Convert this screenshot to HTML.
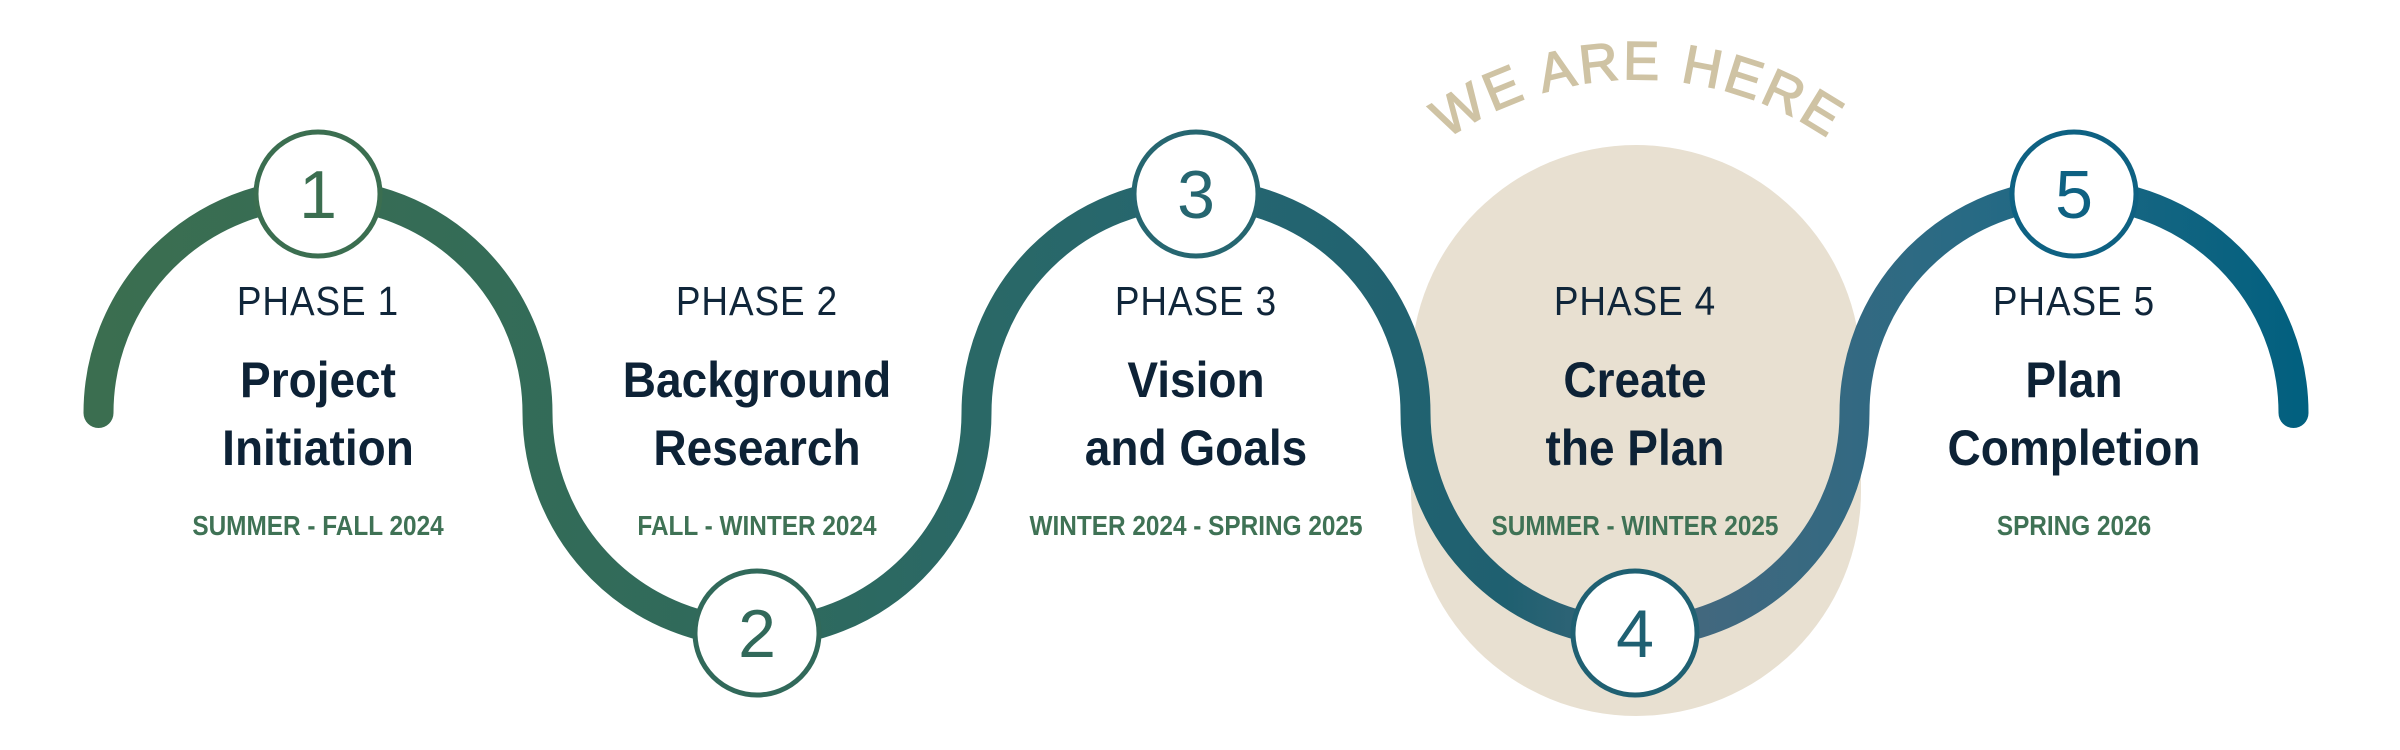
<!DOCTYPE html>
<html><head><meta charset="utf-8"><style>
html,body{margin:0;padding:0;background:#fff;}
body{width:2400px;height:750px;overflow:hidden;position:relative;font-family:"Liberation Sans",sans-serif;}
svg{position:absolute;left:0;top:0;}
.t{position:absolute;width:440px;text-align:center;}
.ph{font-size:41px;color:#10263a;letter-spacing:1px;transform:scaleX(0.9);}
.ti{font-size:50px;font-weight:bold;color:#0d2236;line-height:68px;transform:scaleX(0.92);}
.dt{font-size:28px;font-weight:bold;color:#3f7255;transform:scaleX(0.87);}
</style></head><body>
<svg width="2400" height="750" viewBox="0 0 2400 750">
<defs>
<linearGradient id="g" gradientUnits="userSpaceOnUse" x1="98" y1="0" x2="2298" y2="0">
<stop offset="0" stop-color="#3b6e50"/>
<stop offset="0.3" stop-color="#2f6a5c"/>
<stop offset="0.5" stop-color="#256670"/>
<stop offset="0.64" stop-color="#1f6070"/>
<stop offset="0.72" stop-color="#44687e"/>
<stop offset="0.85" stop-color="#286a84"/>
<stop offset="1" stop-color="#02607f"/>
</linearGradient>
<path id="arc" d="M 1420 160 A 335 335 0 0 1 1856 160"/>
</defs>
<rect x="1411" y="145" width="450" height="571" rx="225" ry="225" fill="#e8e0d1"/>
<text font-family="Liberation Sans, sans-serif" font-size="54" fill="#cfc3a4" stroke="#cfc3a4" stroke-width="1.5" letter-spacing="3"><textPath href="#arc" startOffset="50%" text-anchor="middle">WE ARE HERE</textPath></text>
<path d="M 98.5 413 A 219.5 219.5 0 0 1 537.5 413 A 219.5 219.5 0 0 0 976.5 413 A 219.5 219.5 0 0 1 1415.5 413 A 219.5 219.5 0 0 0 1854.5 413 A 219.5 219.5 0 0 1 2293.5 413" fill="none" stroke="url(#g)" stroke-width="30" stroke-linecap="round"/>
<g fill="#fff" stroke-width="5">
<circle cx="318" cy="194" r="62" stroke="#3b6e50"/>
<circle cx="757" cy="633" r="62" stroke="#31695a"/>
<circle cx="1196" cy="194" r="62" stroke="#266670"/>
<circle cx="1635" cy="633" r="62" stroke="#1f6072"/>
<circle cx="2074" cy="194" r="62" stroke="#0e6182"/>
</g>
<g font-family="Liberation Sans, sans-serif" font-size="68" text-anchor="middle">
<text x="318" y="218" fill="#3b6e50">1</text>
<text x="757" y="657" fill="#31695a">2</text>
<text x="1196" y="218" fill="#266670">3</text>
<text x="1635" y="657" fill="#1f6072">4</text>
<text x="2074" y="218" fill="#0e6182">5</text>
</g>
</svg>
<div class="t" style="left:98px;top:278px"><div class="ph">PHASE 1</div></div>
<div class="t" style="left:98px;top:346px"><div class="ti">Project<br>Initiation</div></div>
<div class="t" style="left:98px;top:510px"><div class="dt">SUMMER - FALL 2024</div></div>

<div class="t" style="left:537px;top:278px"><div class="ph">PHASE 2</div></div>
<div class="t" style="left:537px;top:346px"><div class="ti">Background<br>Research</div></div>
<div class="t" style="left:537px;top:510px"><div class="dt">FALL - WINTER 2024</div></div>

<div class="t" style="left:976px;top:278px"><div class="ph">PHASE 3</div></div>
<div class="t" style="left:976px;top:346px"><div class="ti">Vision<br>and Goals</div></div>
<div class="t" style="left:976px;top:510px"><div class="dt">WINTER 2024 - SPRING 2025</div></div>

<div class="t" style="left:1415px;top:278px"><div class="ph">PHASE 4</div></div>
<div class="t" style="left:1415px;top:346px"><div class="ti">Create<br>the Plan</div></div>
<div class="t" style="left:1415px;top:510px"><div class="dt">SUMMER - WINTER 2025</div></div>

<div class="t" style="left:1854px;top:278px"><div class="ph">PHASE 5</div></div>
<div class="t" style="left:1854px;top:346px"><div class="ti">Plan<br>Completion</div></div>
<div class="t" style="left:1854px;top:510px"><div class="dt">SPRING 2026</div></div>
</body></html>
